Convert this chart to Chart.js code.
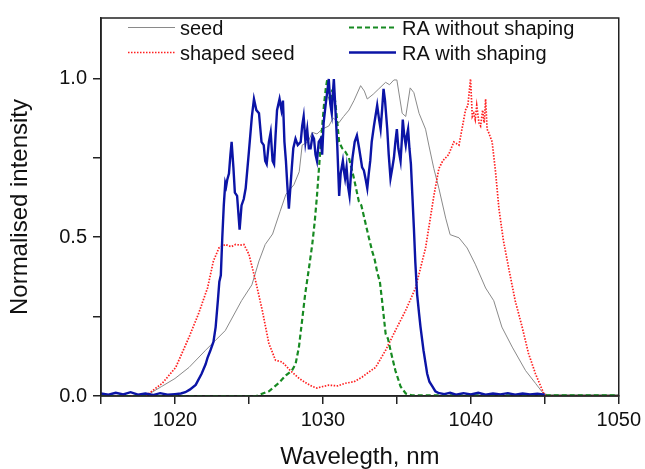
<!DOCTYPE html>
<html><head><meta charset="utf-8">
<script src="https://cdn.jsdelivr.net/npm/chart.js@4.4.1/dist/chart.umd.min.js"></script>
<style>html,body{margin:0;padding:0;background:#fff;}canvas{display:block;}</style>
</head><body>
<canvas id="c" width="645" height="469"></canvas>
<script>
// ---------- data ----------
const seriesLabels = ['seed', 'shaped seed', 'RA without shaping', 'RA with shaping'];
const xTickLabels = [1020, 1030, 1040, 1050];
const yTickLabels = [0.0, 0.5, 1.0];

const seedWl = [1015,1017,1018.2,1019.1,1020.0,1020.95,1022.07,1023.4,1024.5,1025.2,1025.68,1026.1,1026.6,1027.1,1027.5,1028.04,1028.4,1028.6,1029.0,1029.28,1029.6,1029.95,1030.4,1030.7,1031.08,1031.4,1031.76,1032.1,1032.55,1032.8,1033.0,1033.4,1033.78,1034.24,1034.5,1034.8,1035.0,1035.36,1035.6,1035.9,1036.15,1036.5,1036.94,1037.16,1037.5,1037.84,1038.3,1038.6,1039.2,1039.75,1040.3,1041.0,1041.55,1042.1,1042.8,1043.7,1044.37,1044.9,1045.2,1047,1050];
const seedVal = [0,0,0.005,0.03,0.055,0.09,0.144,0.206,0.30,0.35,0.425,0.477,0.51,0.58,0.635,0.665,0.706,0.79,0.80,0.83,0.825,0.84,0.85,0.875,0.86,0.88,0.90,0.93,0.977,0.96,0.935,0.95,0.967,0.9875,0.98,0.995,0.995,0.89,0.88,0.97,0.955,0.89,0.84,0.79,0.716,0.654,0.56,0.508,0.498,0.466,0.415,0.34,0.30,0.217,0.154,0.08,0.04,0.008,0.004,0.004,0.004];

const shapedWl = [1015,1018.0,1018.24,1019.14,1020.05,1020.95,1021.6,1022.2,1022.6,1022.97,1023.4,1023.8,1024.1,1024.4,1024.66,1025.0,1025.45,1025.9,1026.35,1026.8,1027.25,1027.5,1027.8,1028.4,1028.9,1029.28,1029.6,1030.0,1030.4,1031.0,1031.5,1032.1,1032.66,1033.1,1033.56,1034.24,1034.9,1035.6,1036.26,1036.94,1037.16,1037.5,1037.84,1038.1,1038.3,1038.5,1038.85,1039.2,1039.4,1039.64,1039.8,1039.98,1040.1,1040.2,1040.3,1040.4,1040.55,1040.66,1040.8,1040.9,1041.0,1041.1,1041.2,1041.44,1041.67,1041.9,1042.2,1042.57,1043.0,1043.47,1043.9,1044.37,1044.93,1045.1,1050];
const shapedVal = [0,0,0.008,0.04,0.09,0.185,0.26,0.34,0.425,0.466,0.477,0.47,0.477,0.475,0.477,0.446,0.3625,0.27,0.165,0.1125,0.107,0.095,0.08,0.055,0.04,0.03,0.025,0.03,0.034,0.032,0.04,0.045,0.06,0.075,0.09,0.144,0.206,0.27,0.34,0.466,0.53,0.63,0.716,0.74,0.75,0.76,0.80,0.79,0.84,0.90,0.915,0.998,0.88,0.89,0.87,0.915,0.86,0.85,0.90,0.86,0.935,0.84,0.83,0.80,0.706,0.59,0.49,0.40,0.30,0.217,0.134,0.07,0.008,0,0];

const raNoWl = [1015,1025.5,1026.35,1027.0,1027.5,1027.9,1028.15,1028.38,1028.6,1028.8,1029.05,1029.28,1029.45,1029.6,1029.85,1030.07,1030.2,1030.3,1030.4,1030.5,1030.62,1030.74,1030.85,1030.97,1031.1,1031.3,1031.5,1031.76,1032.1,1032.43,1032.6,1032.9,1033.1,1033.33,1033.5,1033.67,1033.85,1034.0,1034.24,1034.4,1034.57,1034.9,1035.25,1035.6,1036,1050];
const raNoVal = [0,0,0.015,0.04,0.065,0.08,0.10,0.154,0.24,0.32,0.40,0.477,0.55,0.63,0.79,0.915,0.97,0.998,0.95,0.925,0.96,0.956,0.92,0.8625,0.80,0.78,0.77,0.75,0.685,0.6125,0.60,0.54,0.50,0.456,0.43,0.39,0.36,0.30,0.196,0.18,0.144,0.08,0.03,0.008,0.002,0.002];

const raWithWl = [1015,1015.5,1016,1016.5,1017,1017.5,1018,1018.5,1019,1019.5,1020,1020.4,1020.7,1021.0,1021.4,1021.8,1022.07,1022.2,1022.4,1022.6,1022.75,1022.9,1023.0,1023.1,1023.2,1023.3,1023.4,1023.46,1023.53,1023.65,1023.75,1023.83,1023.95,1024.05,1024.2,1024.37,1024.5,1024.65,1024.78,1025.0,1025.2,1025.34,1025.5,1025.68,1025.85,1026.0,1026.1,1026.2,1026.35,1026.47,1026.6,1026.7,1026.8,1026.9,1027.07,1027.2,1027.3,1027.4,1027.5,1027.6,1027.7,1027.9,1028.0,1028.15,1028.3,1028.5,1028.6,1028.7,1028.82,1028.94,1029.05,1029.17,1029.3,1029.4,1029.5,1029.6,1029.72,1029.85,1029.95,1030.05,1030.18,1030.3,1030.4,1030.5,1030.6,1030.67,1030.74,1030.85,1030.97,1031.1,1031.2,1031.35,1031.45,1031.5,1031.6,1031.7,1031.8,1031.9,1032.0,1032.15,1032.3,1032.45,1032.55,1032.65,1032.77,1032.9,1033.0,1033.1,1033.2,1033.3,1033.45,1033.55,1033.67,1033.8,1033.9,1034.0,1034.1,1034.2,1034.35,1034.45,1034.57,1034.7,1034.8,1034.9,1035.0,1035.1,1035.25,1035.33,1035.4,1035.5,1035.6,1035.68,1035.76,1035.85,1035.95,1036.05,1036.15,1036.25,1036.37,1036.5,1036.6,1036.8,1037.05,1037.2,1037.4,1037.6,1037.8,1038.2,1038.6,1039,1039.5,1040,1040.5,1041,1041.5,1042,1042.5,1043,1043.5,1044,1044.5,1045];
const raWithVal = [0.008,0.004,0.01,0.005,0.012,0.004,0.008,0.003,0.009,0.004,0.006,0.008,0.012,0.02,0.035,0.07,0.10,0.12,0.144,0.17,0.217,0.30,0.36,0.38,0.50,0.60,0.67,0.66,0.68,0.70,0.76,0.80,0.72,0.64,0.63,0.524,0.60,0.62,0.654,0.77,0.88,0.935,0.90,0.89,0.80,0.79,0.74,0.73,0.80,0.83,0.74,0.73,0.82,0.90,0.935,0.90,0.93,0.80,0.74,0.66,0.59,0.72,0.78,0.81,0.79,0.80,0.85,0.88,0.80,0.84,0.78,0.78,0.82,0.81,0.76,0.74,0.80,0.81,0.76,0.86,0.915,0.96,0.998,0.92,0.89,0.95,0.998,0.90,0.79,0.63,0.70,0.74,0.70,0.685,0.72,0.66,0.63,0.70,0.75,0.80,0.82,0.78,0.75,0.72,0.71,0.68,0.654,0.70,0.74,0.80,0.85,0.88,0.915,0.87,0.84,0.90,0.967,0.93,0.84,0.76,0.685,0.72,0.75,0.80,0.84,0.78,0.74,0.80,0.87,0.82,0.79,0.82,0.84,0.78,0.73,0.63,0.53,0.42,0.32,0.26,0.217,0.144,0.07,0.045,0.03,0.015,0.01,0.006,0.01,0.004,0.009,0.005,0.01,0.004,0.008,0.005,0.009,0.004,0.008,0.005,0.007,0.004];

// ---------- chart ----------
const FONT = '"Liberation Sans", Arial, Helvetica, sans-serif';
function pts(xs, ys) { return xs.map((x, i) => ({ x: x, y: ys[i] })); }

const insetLegend = {
  id: 'insetLegend',
  afterDraw(chart) {
    const ctx = chart.ctx;
    const ds = chart.data.datasets;
    const cols = [{ lx: 128, tx: 180 }, { lx: 349, tx: 402 }];
    const rows = [27.5, 52.5];
    ds.forEach((d, i) => {
      const c = cols[Math.floor(i / 2)], y = rows[i % 2];
      ctx.save();
      ctx.strokeStyle = d.borderColor;
      ctx.lineWidth = d.borderWidth;
      ctx.setLineDash(d.borderDash || []);
      ctx.beginPath(); ctx.moveTo(c.lx, y); ctx.lineTo(c.lx + 47, y); ctx.stroke();
      ctx.setLineDash([]);
      ctx.fillStyle = '#111';
      ctx.font = '20px ' + FONT;
      ctx.textBaseline = 'alphabetic';
      ctx.fillText(d.label, c.tx, y + 7.5);
      ctx.restore();
    });
  }
};
const frame = {
  id: 'frame',
  afterDraw(chart) {
    const a = chart.chartArea, ctx = chart.ctx;
    ctx.save();
    ctx.strokeStyle = '#222'; ctx.lineWidth = 1.5;
    ctx.strokeRect(a.left, a.top, a.right - a.left, a.bottom - a.top);
    ctx.restore();
  }
};

new Chart(document.getElementById('c'), {
  type: 'line',
  data: {
    datasets: [
      { label: seriesLabels[0], data: pts(seedWl, seedVal), borderColor: '#8a8a8a', borderWidth: 1, order: 3 },
      { label: seriesLabels[1], data: pts(shapedWl, shapedVal), borderColor: '#ff1e1e', borderWidth: 1.7, borderDash: [1.5, 1.5], order: 2 },
      { label: seriesLabels[2], data: pts(raNoWl, raNoVal), borderColor: '#178a22', borderWidth: 2.2, borderDash: [5, 3], order: 1 },
      { label: seriesLabels[3], data: pts(raWithWl, raWithVal), borderColor: '#0b14a6', borderWidth: 2.4, order: 0 }
    ]
  },
  options: {
    responsive: false,
    animation: false,
    devicePixelRatio: 1,
    parsing: true,
    elements: { point: { radius: 0 }, line: { tension: 0, fill: false } },
    layout: { padding: { top: 15, right: 25, left: 0, bottom: 0 } },
    plugins: { legend: { display: false }, tooltip: { enabled: false } },
    scales: {
      x: {
        type: 'linear', min: 1015, max: 1050,
        afterFit(s) { s.height = 73; },
        ticks: {
          stepSize: 5, autoSkip: false, maxRotation: 0, padding: 4, color: '#111',
          font: { family: FONT, size: 20 },
          callback: (v) => xTickLabels.includes(v) ? String(v) : ''
        },
        grid: { drawOnChartArea: false, drawTicks: true, tickLength: 8, color: '#222', lineWidth: 1.5 },
        border: { display: true, color: '#222', width: 1.5 },
        title: { display: true, text: 'Wavelegth, nm', color: '#111', font: { family: FONT, size: 24, lineHeight: 1 }, padding: { top: 0, bottom: 0 } }
      },
      y: {
        type: 'linear', min: 0, max: 1.19,
        afterFit(s) { s.width = 101; },
        ticks: {
          stepSize: 0.25, includeBounds: false, padding: 6, color: '#111',
          font: { family: FONT, size: 20 },
          callback: (v) => yTickLabels.some(t => Math.abs(t - v) < 1e-9) ? Number(v).toFixed(1) : ''
        },
        grid: { drawOnChartArea: false, drawTicks: true, tickLength: 8, color: '#222', lineWidth: 1.5 },
        border: { display: true, color: '#222', width: 1.5 },
        title: { display: true, text: 'Normalised intensity', color: '#111', font: { family: FONT, size: 24, lineHeight: 1 }, padding: { top: 8, bottom: 0 } }
      }
    }
  },
  plugins: [insetLegend, frame]
});
</script>
</body></html>
